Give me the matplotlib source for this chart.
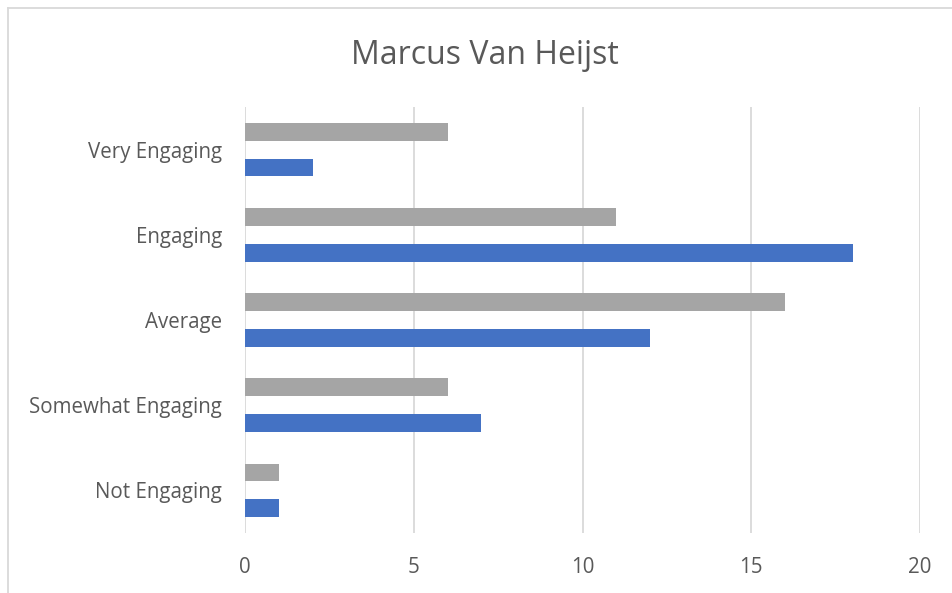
import matplotlib
matplotlib.use("Agg")
import matplotlib.pyplot as plt
from matplotlib.lines import Line2D
import numpy as np

categories = ["Not Engaging", "Somewhat Engaging", "Average", "Engaging", "Very Engaging"]
grey_values = [1, 6, 16, 11, 6]
blue_values = [1, 7, 12, 18, 2]
x_ticks = [0, 5, 10, 15, 20]
title = "Marcus Van Heijst"

plt.rcParams['font.family'] = ['Open Sans', 'DejaVu Sans']

W, H = 952, 593
fig = plt.figure(figsize=(W / 100, H / 100), dpi=100)
ax = fig.add_axes([245 / W, 1 - 533 / H, (920 - 245) / W, (533 - 107) / H])

y = np.arange(len(categories))
h = 0.21
ax.barh(y + h, grey_values, height=h, color="#A5A5A5", zorder=3)
ax.barh(y - h, blue_values, height=h, color="#4472C4", zorder=3)

ax.set_xlim(0, 20)
ax.set_ylim(-0.5, len(categories) - 0.5)
ax.set_xticks(x_ticks)
ax.set_yticks(y)
ax.set_yticklabels(categories)
ax.grid(axis="x", color="#D9D9D9", linewidth=1.3, zorder=0)
for s in ax.spines.values():
    s.set_visible(False)
ax.tick_params(length=0, labelsize=14.8, colors="#595959")
ax.tick_params(axis="x", pad=17)
ax.tick_params(axis="y", pad=16.5)

fig.text(485 / W, 1 - 55 / H, title, ha="center", va="center", fontsize=23, color="#595959")

fig.add_artist(Line2D([7.5 / W, 7.5 / W], [0, 1 - 7.5 / H], transform=fig.transFigure, color="#D9D9D9", lw=1.3))
fig.add_artist(Line2D([7.5 / W, 1], [1 - 7.5 / H, 1 - 7.5 / H], transform=fig.transFigure, color="#D9D9D9", lw=1.3))

fig.savefig("out.png", dpi=100)
